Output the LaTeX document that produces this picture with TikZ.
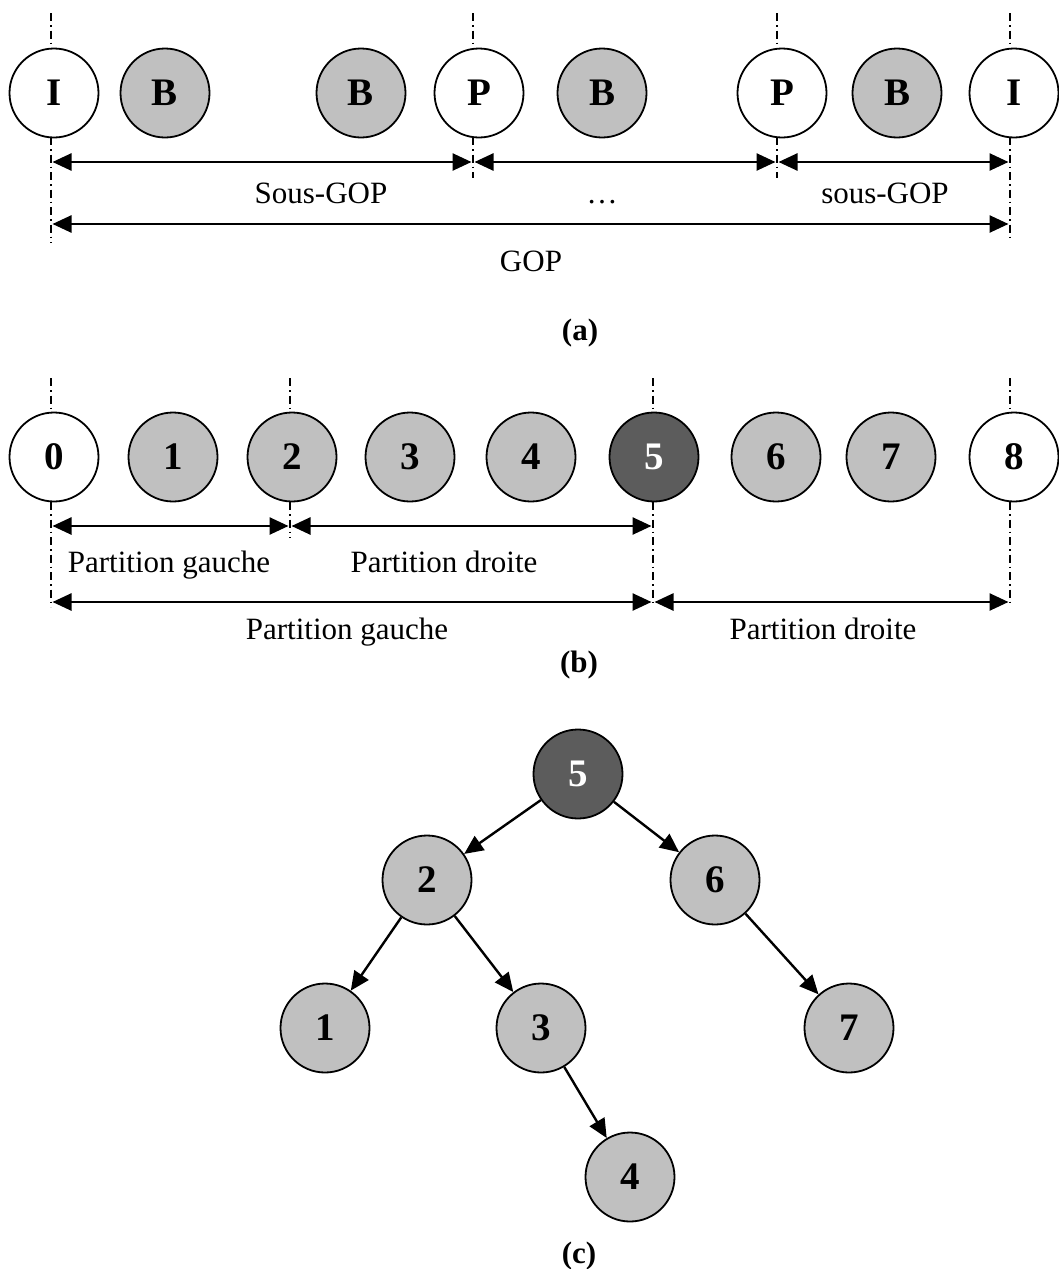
\documentclass[tikz,border=0pt]{standalone}
\usepackage{fontspec}
\setmainfont{Liberation Serif}
\usetikzlibrary{arrows.meta}
\definecolor{framefill}{RGB}{192,192,192}
\definecolor{keyfill}{RGB}{92,92,92}
\begin{document}
\begin{tikzpicture}[x=1pt,y=-1pt,
  frame/.style={circle, draw, line width=1.8pt, minimum size=89pt, inner sep=0pt,
                font=\fontsize{39}{44}\selectfont\bfseries},
  ref/.style={frame, fill=white},
  bfr/.style={frame, fill=framefill},
  key/.style={frame, fill=keyfill, text=white},
  guide/.style={line width=1.2pt, dash pattern=on 8pt off 4pt on 1.5pt off 4pt},
  span/.style={line width=2.6pt,
               {Triangle[length=19pt,width=17pt]}-{Triangle[length=19pt,width=17pt]},
               shorten <=1.5pt, shorten >=1.5pt},
  lbl/.style={font=\fontsize{31}{36}\selectfont, anchor=base, inner sep=0pt},
  caption/.style={font=\fontsize{31}{36}\selectfont\bfseries, anchor=base, inner sep=0pt},
  edge/.style={line width=2.4pt, -{Triangle[length=19pt,width=17pt]}}
]
\useasboundingbox (0,0) rectangle (1059,1269);
\fill[white] (0,0) rectangle (1059,1269);

% ---------- (a) GOP structure ----------
\node[ref] (a0) at (54,93)   {I};
\node[bfr] (a1) at (165,93)  {B};
\node[bfr] (a2) at (361,93)  {B};
\node[ref] (a3) at (479,93)  {P};
\node[bfr] (a4) at (602,93)  {B};
\node[ref] (a5) at (782,93)  {P};
\node[bfr] (a6) at (897,93)  {B};
\node[ref] (a7) at (1014,93) {I};

\coordinate (ga0) at (51,0);
\coordinate (ga3) at (473,0);
\coordinate (ga5) at (777,0);
\coordinate (ga7) at (1010,0);
\coordinate (ra1) at (0,162);
\coordinate (ra2) at (0,224);

\draw[guide] (51,13) -- (51,47)   (51,137) -- (51,243);
\draw[guide] (473,13) -- (473,47) (473,137) -- (473,178);
\draw[guide] (777,13) -- (777,47) (777,137) -- (777,178);
\draw[guide] (1010,13) -- (1010,47) (1010,137) -- (1010,241);

\draw[span] (ga0 |- ra1) -- (ga3 |- ra1);
\draw[span] (ga3 |- ra1) -- (ga5 |- ra1);
\draw[span] (ga5 |- ra1) -- (ga7 |- ra1);
\draw[span] (ga0 |- ra2) -- (ga7 |- ra2);

\node[lbl] (la1) at (321,203) {Sous-GOP};
\node[lbl] (la2) at (602,203) {\dots};
\node[lbl] (la3) at (885,203) {sous-GOP};
\node[lbl] (la4) at (531,271) {GOP};
\node[caption] (capa) at (580,340) {(a)};

% ---------- (b) partitions ----------
\node[ref] (b0) at (54,457)   {0};
\node[bfr] (b1) at (173,457)  {1};
\node[bfr] (b2) at (292,457)  {2};
\node[bfr] (b3) at (410,457)  {3};
\node[bfr] (b4) at (531,457)  {4};
\node[key] (b5) at (654,457)  {5};
\node[bfr] (b6) at (776,457)  {6};
\node[bfr] (b7) at (891,457)  {7};
\node[ref] (b8) at (1014,457) {8};

\coordinate (gb0) at (51,0);
\coordinate (gb2) at (290,0);
\coordinate (gb5) at (653,0);
\coordinate (gb8) at (1010,0);
\coordinate (rb1) at (0,526);
\coordinate (rb2) at (0,602);

\draw[guide] (51,378) -- (51,411)     (51,502) -- (51,607);
\draw[guide] (290,378) -- (290,411)   (290,502) -- (290,538);
\draw[guide] (653,378) -- (653,411)   (653,502) -- (653,606);
\draw[guide] (1010,378) -- (1010,411) (1010,502) -- (1010,604);

\draw[span] (gb0 |- rb1) -- (gb2 |- rb1);
\draw[span] (gb2 |- rb1) -- (gb5 |- rb1);
\draw[span] (gb0 |- rb2) -- (gb5 |- rb2);
\draw[span] (gb5 |- rb2) -- (gb8 |- rb2);

\node[lbl] (lb1) at (169,572) {Partition gauche};
\node[lbl] (lb2) at (444,572) {Partition droite};
\node[lbl] (lb3) at (347,639) {Partition gauche};
\node[lbl] (lb4) at (823,639) {Partition droite};
\node[caption] (capb) at (579,672) {(b)};

% ---------- (c) binary tree ----------
\node[key] (t5) at (578,774)  {5};
\node[bfr] (t2) at (427,880)  {2};
\node[bfr] (t6) at (715,880)  {6};
\node[bfr] (t1) at (325,1028) {1};
\node[bfr] (t3) at (541,1028) {3};
\node[bfr] (t7) at (849,1028) {7};
\node[bfr] (t4) at (630,1177) {4};

\draw[edge] (t5) -- (t2);
\draw[edge] (t5) -- (t6);
\draw[edge] (t2) -- (t1);
\draw[edge] (t2) -- (t3);
\draw[edge] (t3) -- (t4);
\draw[edge] (t6) -- (t7);

\node[caption] (capc) at (579,1263) {(c)};
\end{tikzpicture}
\end{document}
